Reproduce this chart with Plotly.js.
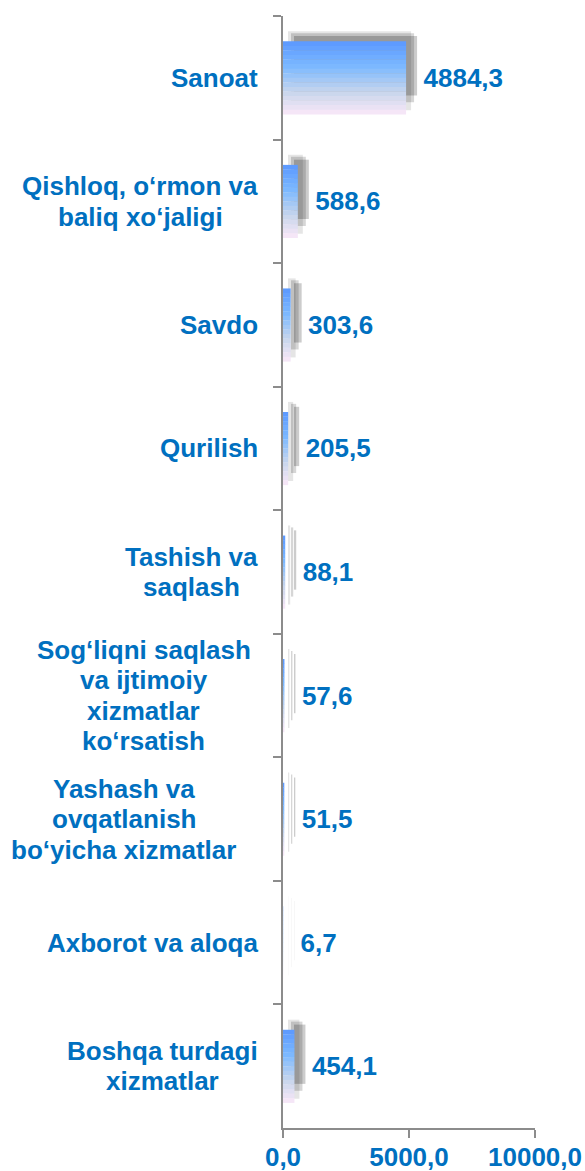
<!DOCTYPE html>
<html>
<head>
<meta charset="utf-8">
<script src="https://cdn.plot.ly/plotly-3.0.1.min.js"></script>
<style>html,body{margin:0;padding:0;background:#fff;}#chart{width:585px;height:1171px;}</style>
</head>
<body>
<div id="chart"></div>
<script>
// ---- data ----
const categories = [
  'Sanoat',
  'Qishloq, o‘rmon va<br>baliq xo‘jaligi',
  'Savdo',
  'Qurilish',
  'Tashish va<br>saqlash',
  'Sog‘liqni saqlash\u00a0\u00a0<br>va ijtimoiy<br>xizmatlar<br>ko‘rsatish',
  'Yashash va<br>ovqatlanish<br>bo‘yicha xizmatlar\u00a0\u00a0\u00a0\u00a0\u00a0\u00a0',
  'Axborot va aloqa',
  'Boshqa turdagi<br>xizmatlar'
];
const values = [4884.3, 588.6, 303.6, 205.5, 88.1, 57.6, 51.5, 6.7, 454.1];
const xTicks = [0, 5000, 10000];

// ---- styling ----
const BLUE = '#0070C0';
const FONT = 'Liberation Sans, Arial, sans-serif';
const FS = 26;
const W = 585, H = 1171;
const mainW = 252, mainH = 1112;
const maxDx = 11, maxDy = 12;
const plotW = mainW + maxDx, plotH = mainH + maxDy;
const mL = 283, mT = 16 - maxDy, mB = 43, mR = W - mL - plotW;
const barW = 0.59;
const LINE_H = 30.5;

// shadow layers: [dx px, dy px, thickness, alpha]
const shadowLayers = [[5, 7, 0.64, 0.10], [8, 10, 0.56, 0.16], [11, 12, 0.48, 0.20]];

const stops = [[0, [91,152,255]], [0.35, [125,185,255]], [0.7, [200,214,236]], [1, [250,232,248]]];
function gradColor(t) {
  for (let i = 0; i < stops.length - 1; i++) {
    const a = stops[i], b = stops[i+1];
    if (t >= a[0] && t <= b[0]) {
      const f = (t - a[0]) / (b[0] - a[0]);
      const c = a[1].map((v, k) => Math.round(v + (b[1][k] - v) * f));
      return 'rgb(' + c.join(',') + ')';
    }
  }
  return 'rgb(' + stops[stops.length-1][1].join(',') + ')';
}

const traces = [];
const layout = {
  width: W, height: H,
  margin: {l: mL, r: mR, t: mT, b: mB, pad: 0},
  paper_bgcolor: '#fff', plot_bgcolor: 'rgba(0,0,0,0)',
  barmode: 'overlay', separators: ', ', showlegend: false
};

// shadow subplots (drawn first, behind)
shadowLayers.forEach(([dx, dy, w, a], k) => {
  const id = k === 0 ? '' : String(k + 1);
  layout['xaxis' + id] = {domain: [dx / plotW, (mainW + dx) / plotW], range: [0, 10000], visible: false, anchor: 'y' + id};
  layout['yaxis' + id] = {domain: [dy / plotH, (mainH + dy) / plotH], type: 'category', categoryarray: categories,
    autorange: 'reversed', visible: false, anchor: 'x' + id};
  traces.push({
    type: 'bar', orientation: 'h', x: values, y: categories,
    xaxis: 'x' + id, yaxis: 'y' + id, width: w,
    marker: {color: 'rgba(0,0,0,' + a + ')', line: {width: 0}},
    hoverinfo: 'skip', showlegend: false
  });
});

// main subplot
const M = String(shadowLayers.length + 1);
const N = 16;
for (let i = 0; i < N; i++) {
  traces.push({
    type: 'bar', orientation: 'h', x: values, y: categories,
    xaxis: 'x' + M, yaxis: 'y' + M, width: barW / N + 0.002, offset: -barW / 2 + i * barW / N,
    marker: {color: gradColor((i + 0.5) / N), line: {width: 0}},
    hoverinfo: 'skip', showlegend: false
  });
}
traces.push({
  type: 'bar', orientation: 'h', x: values, y: categories,
  xaxis: 'x' + M, yaxis: 'y' + M, width: barW,
  marker: {color: 'rgba(0,0,0,0)', line: {width: 0}},
  texttemplate: '\u00a0\u00a0%{x:.1f}', textposition: 'outside', cliponaxis: false,
  constraintext: 'none',
  textfont: {family: FONT, size: FS, color: BLUE, weight: 'bold'},
  hoverinfo: 'skip', showlegend: false
});

layout['xaxis' + M] = {
  domain: [0, mainW / plotW], range: [0, 10000], anchor: 'y' + M,
  tickvals: xTicks, tickformat: '.1f', ticks: 'outside', ticklen: 8, tickwidth: 2, tickcolor: '#8c8c8c',
  ticklabelstandoff: -3,
  showline: true, linecolor: '#8c8c8c', linewidth: 2, showgrid: false, zeroline: false,
  tickfont: {family: FONT, size: FS, color: BLUE, weight: 'bold'}
};
layout['yaxis' + M] = {
  domain: [0, mainH / plotH], type: 'category', categoryarray: categories, autorange: 'reversed', anchor: 'x' + M,
  showticklabels: false, ticks: 'outside', tickson: 'boundaries', ticklen: 8, tickwidth: 2, tickcolor: '#8c8c8c',
  showline: true, linecolor: '#8c8c8c', linewidth: 2, showgrid: false, zeroline: false
};

// category labels: lines centred in a block right-aligned next to the axis
const ctx = document.createElement('canvas').getContext('2d');
ctx.font = 'bold ' + FS + 'px "Liberation Sans", Arial, sans-serif';
const annotations = [];
categories.forEach(c => {
  const lines = c.split('<br>');
  const blockW = Math.max(...lines.map(l => ctx.measureText(l).width));
  const n = lines.length;
  lines.forEach((l, j) => {
    annotations.push({
      xref: 'paper', yref: 'y' + M, x: 0, y: c, xanchor: 'center', yanchor: 'middle',
      xshift: -25 - blockW / 2, yshift: ((n - 1) / 2 - j) * LINE_H,
      text: l.replace(/\u00a0+$/, ''), showarrow: false,
      font: {family: FONT, size: FS, color: BLUE, weight: 'bold'}
    });
  });
});
layout.annotations = annotations;

Plotly.newPlot('chart', traces, layout, {displayModeBar: false, staticPlot: true});
</script>
</body>
</html>
